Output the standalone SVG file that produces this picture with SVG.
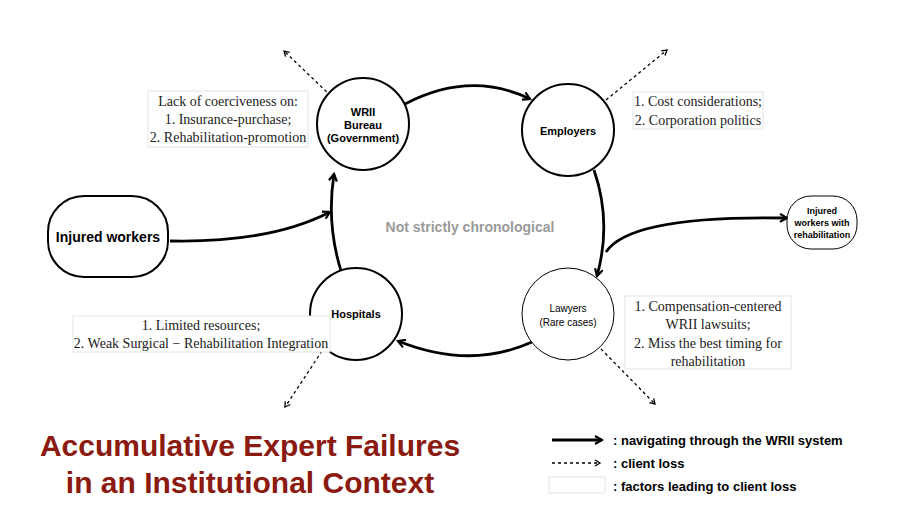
<svg xmlns="http://www.w3.org/2000/svg" width="914" height="514" viewBox="0 0 914 514">
<style>
.n{fill:#fff;stroke:#000;stroke-width:2}
.nt{font-family:"Liberation Sans",Arial,sans-serif;font-weight:bold;text-anchor:middle;fill:#000}
.box{fill:#fff;stroke:#e4e4e4;stroke-width:1}
.ft{font-family:"Liberation Serif","Times New Roman",serif;font-size:14px;text-anchor:middle;fill:#222}
.s{fill:none;stroke:#000;stroke-width:2.8}
.d{fill:none;stroke:#000;stroke-width:1.3;stroke-dasharray:3 3}
.lg{font-family:"Liberation Sans",Arial,sans-serif;font-weight:bold;font-size:13px;fill:#000}
</style>
<defs>
<marker id="a" markerWidth="10" markerHeight="10" refX="8" refY="5" orient="auto" markerUnits="userSpaceOnUse"><path d="M1,1 L8,5 L1,9" fill="none" stroke="#000" stroke-width="2.2"/></marker>
<marker id="b" markerWidth="8" markerHeight="8" refX="6" refY="4" orient="auto" markerUnits="userSpaceOnUse"><path d="M1,1 L6,4 L1,7" fill="none" stroke="#000" stroke-width="1.3"/></marker>
</defs>
<text x="470" y="232" font-family="Liberation Sans,Arial,sans-serif" font-weight="bold" font-size="14" fill="#9a9a9a" text-anchor="middle">Not strictly chronological</text>
<g id="connectors">
<path class="s" d="M405,104 Q470,70 530,99" marker-end="url(#a)"/>
<path class="s" d="M594,170 Q612,222 597,276" marker-end="url(#a)"/>
<path class="s" d="M532,342 Q470,370 398,341" marker-end="url(#a)"/>
<path class="s" d="M342,274 Q326,225 334,174" marker-end="url(#a)"/>
<path class="s" d="M170,241 Q270,243 330,212" marker-end="url(#a)"/>
<path class="s" d="M606,252 Q630,215 787,218" marker-end="url(#a)"/>
<path class="d" d="M331,96 L284,51" marker-end="url(#b)"/>
<path class="d" d="M606,100 L667,50" marker-end="url(#b)"/>
<path class="d" d="M601,349 L655,404" marker-end="url(#b)"/>
<path class="d" d="M322,351 L285,407" marker-end="url(#b)"/>
</g>
<g id="wrii"><circle class="n" cx="363" cy="124" r="46"/>
<text class="nt" font-size="11" x="363" y="116">WRII</text><text class="nt" font-size="11" x="363" y="129">Bureau</text><text class="nt" font-size="11" x="363" y="142">(Government)</text></g>
<g id="employers"><circle class="n" cx="568" cy="130" r="46"/><text class="nt" font-size="11" x="568" y="135">Employers</text></g>
<g id="lawyers"><circle fill="#fff" stroke="#000" stroke-width="1" cx="568" cy="314" r="46"/>
<text font-family="Liberation Sans,Arial,sans-serif" font-size="10" text-anchor="middle" x="568" y="312">Lawyers</text><text font-family="Liberation Sans,Arial,sans-serif" font-size="10" text-anchor="middle" x="568" y="326">(Rare cases)</text></g>
<g id="hospitals"><circle class="n" cx="356" cy="314" r="46"/><text class="nt" font-size="11" x="356" y="318">Hospitals</text></g>
<g id="injured"><rect class="n" x="48" y="196" width="120" height="81" rx="36"/><text class="nt" font-size="14" x="108" y="242">Injured workers</text></g>
<g id="rehab"><rect fill="#fff" stroke="#000" stroke-width="1" x="787" y="196" width="70" height="53" rx="24"/>
<text class="nt" font-size="9" x="822" y="214">Injured</text><text class="nt" font-size="9" x="822" y="226">workers with</text><text class="nt" font-size="9" x="822" y="238">rehabilitation</text></g>
<g id="f1"><rect class="box" x="148" y="91" width="160" height="56"/>
<text class="ft" x="228" y="106">Lack of coerciveness on:</text><text class="ft" x="228" y="124">1. Insurance-purchase;</text><text class="ft" x="228" y="142">2. Rehabilitation-promotion</text></g>
<g id="f2"><rect class="box" x="633" y="92" width="130" height="37"/>
<text class="ft" x="698" y="106">1. Cost considerations;</text><text class="ft" x="698" y="125">2. Corporation politics</text></g>
<g id="f3"><rect class="box" x="625" y="296" width="166" height="73"/>
<text class="ft" x="708" y="311">1. Compensation-centered</text><text class="ft" x="708" y="329">WRII lawsuits;</text><text class="ft" x="708" y="348">2. Miss the best timing for</text><text class="ft" x="708" y="366">rehabilitation</text></g>
<g id="f4"><rect class="box" x="73" y="316" width="257" height="36"/>
<text class="ft" x="201" y="330">1. Limited resources;</text><text class="ft" x="201" y="348">2. Weak Surgical − Rehabilitation Integration</text></g>
<g id="title" font-family="Liberation Sans,Arial,sans-serif" font-weight="bold" font-size="30" fill="#8b1a10" text-anchor="middle">
<text x="250" y="456">Accumulative Expert Failures</text><text x="250" y="493">in an Institutional Context</text></g>
<g id="legend">
<path class="s" d="M552,440 L602,440" stroke-width="2.5" marker-end="url(#a)"/>
<text class="lg" x="613" y="445">: navigating through the WRII system</text>
<path class="d" d="M552,463 L600,463" marker-end="url(#b)"/>
<text class="lg" x="613" y="468">: client loss</text>
<rect class="box" x="549" y="477" width="56" height="16"/>
<text class="lg" x="613" y="491">: factors leading to client loss</text>
</g>
</svg>
